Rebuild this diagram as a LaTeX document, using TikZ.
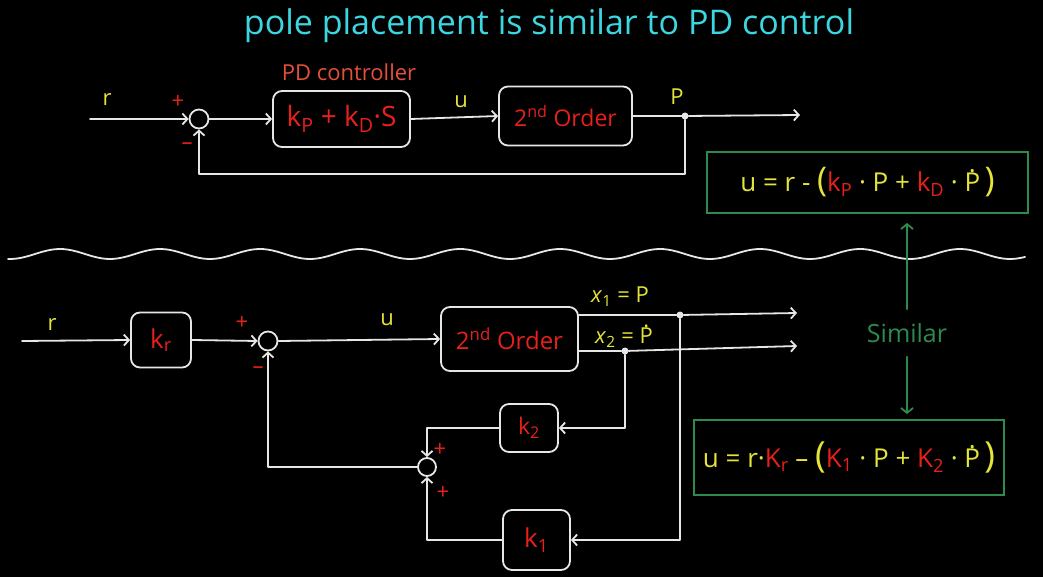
\documentclass[tikz,border=0pt]{standalone}
\usepackage{fontspec}
\setmainfont{Open Sans}
\usetikzlibrary{arrows.meta,calc}
\definecolor{wline}{HTML}{E6E6E6}
\definecolor{kred}{HTML}{E8201A}
\definecolor{yel}{HTML}{E4E43A}
\definecolor{grn}{HTML}{2E8B4E}
\definecolor{cyn}{HTML}{3CD6E0}
\definecolor{pdred}{HTML}{E4503A}
\newcommand\Pdot{\ooalign{P\cr\hidewidth\raisebox{0.74em}{.}\hidewidth\cr}}
\newcommand\fs[1]{\fontsize{#1}{#1}\selectfont}
\newcommand\R[1]{\textcolor{kred}{#1}}
\tikzset{
  wl/.style={draw=wline, line width=1.8pt, line cap=round, line join=round},
  arr/.style={wl, -{Straight Barb[length=5pt,width=11pt]}},
  blk/.style={wl, rounded corners=9pt, text=kred, font=\fs{23}, inner sep=0pt},
  sumnode/.style={wl, circle, minimum size=19pt, inner sep=0pt},
  dotnode/.style={circle, fill=wline, inner sep=0pt, minimum size=7pt},
  lbl/.style={text=yel, font=\fs{22}, inner sep=0pt},
  sgn/.style={text=kred, font=\fs{22}, inner sep=0pt},
  gbox/.style={draw=grn, line width=1.8pt, text=yel, font=\fs{26}, inner sep=0pt},
  garr/.style={draw=grn, line width=1.8pt, line cap=round, -{Straight Barb[length=5pt,width=12pt]}}
}
\begin{document}
\begin{tikzpicture}[x=1pt,y=-1pt]
\fill[black] (0,0) rectangle (1043,577);
\useasboundingbox (0,0) rectangle (1043,577);
% title
\node[text=cyn, font=\fs{34}] (title) at (549,26) {pole placement is similar to PD control};
% ---------- top loop ----------
\coordinate (in1) at (90,119);
\node[lbl] (r1) at (107,100) {r};
\node[sumnode] (s1) at (199,119) {};
\node[sgn] (p1) at (178,102) {+};
\node[sgn] (m1) at (187,146) {–};
\node[blk, minimum width=137pt, minimum height=56pt, font=\fs{28}] (pd) at (341.5,119)
  {k\textsubscript{P} + k\textsubscript{D}·S};
\node[text=pdred, font=\fs{22}, inner sep=0pt] (pdl) at (349,72) {PD controller};
\node[lbl] (u1) at (461,102) {u};
\node[blk, minimum width=133pt, minimum height=59pt] (pl1) at (565.5,116)
  {2\textsuperscript{nd} Order};
\node[dotnode] (d1) at (685,116) {};
\node[lbl] (P1) at (677,97) {P};
\coordinate (out0) at (800,115);
\draw[arr] (in1) -- (s1.west);
\draw[arr] (s1.east) -- (pd.west);
\draw[arr] (pd.east) -- (pl1.west);
\draw[wl] (pl1.east) -- (d1);
\draw[arr] (d1) -- (out0);
\draw[arr] (d1) -- ++(0,58) -| (s1.south);
% equation 1
\node[gbox, minimum width=321pt, minimum height=61pt] (g1) at (867.5,182.5)
  {u = r - {\fs{34}(}\R{k\textsubscript{P}} · P + \R{k\textsubscript{D}} · \Pdot\,{\fs{34})}};
% wave separator
\draw[wl] plot[domain=8:1025, samples=240, smooth] (\x,{254-5*cos(3.6*(\x-60))});
% ---------- bottom loop ----------
\coordinate (in2) at (22,341);
\node[lbl] (r2) at (52,325) {r};
\node[blk, minimum width=60pt, minimum height=55pt, font=\fs{26}] (kr) at (161,340) {k\textsubscript{r}};
\node[sumnode] (s2) at (268,341) {};
\node[sgn] (p2) at (242,323) {+};
\node[sgn] (m2) at (258,370) {–};
\node[lbl] (u2) at (387,320) {u};
\node[blk, minimum width=137pt, minimum height=64pt, font=\fs{24}] (pl2) at (509.5,339)
  {2\textsuperscript{nd} Order};
\node[dotnode] (x1d) at (680,315) {};
\node[dotnode] (x2d) at (625,351) {};
\coordinate (out1) at (797,313);
\coordinate (out2) at (797,346);
\node[lbl] (x1l) at (620,297) {\textit{x}\textsubscript{1} = P};
\node[lbl] (x2l) at (624,338) {\textit{x}\textsubscript{2} = \Pdot};
\node[blk, minimum width=58pt, minimum height=48pt] (k2) at (529,428) {k\textsubscript{2}};
\node[blk, minimum width=67pt, minimum height=60pt, font=\fs{26}] (k1) at (536.5,540) {k\textsubscript{1}};
\node[sumnode, minimum size=18pt] (s3) at (427,467) {};
\node[sgn] (p3) at (440,450) {+};
\node[sgn] (p4) at (443,493) {+};
\draw[arr] (in2) -- (kr.west);
\draw[arr] (kr.east) -- (s2.west);
\draw[arr] (s2.east) -- (pl2.west);
\draw[wl] (pl2.east |- x1d) -- (x1d);
\draw[arr] (x1d) -- (out1);
\draw[wl] (pl2.east |- x2d) -- (x2d);
\draw[arr] (x2d) -- (out2);
\draw[arr] (x2d) |- (k2.east);
\draw[arr] (x1d) |- (k1.east);
\draw[arr] (k2.west) -| (s3.north);
\draw[arr] (k1.west) -| (s3.south);
\draw[arr] (s3.west) -| (s2.south);
% similar
\node[text=grn, font=\fs{25}, inner sep=2pt] (sim) at (907,333) {Similar};
\node[gbox, minimum width=310pt, minimum height=75pt] (g2) at (849,457.5)
  {u = r·\R{K\textsubscript{r}} – {\fs{36}(}\R{K\textsubscript{1}} · P + \R{K\textsubscript{2}} · \Pdot\,{\fs{36})}};
\draw[garr, shorten <=12pt, shorten >=9pt] (sim.north) -- (sim.north |- g1.south);
\draw[garr, shorten <=12pt, shorten >=5pt] (sim.south) -- (sim.south |- g2.north);
\end{tikzpicture}
\end{document}
